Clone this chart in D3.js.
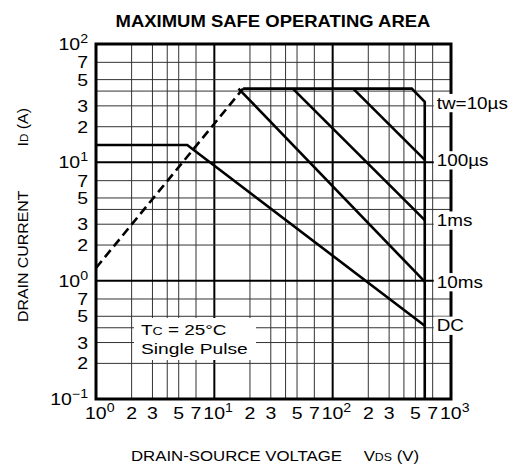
<!DOCTYPE html>
<html>
<head>
<meta charset="utf-8">
<script src="https://cdn.jsdelivr.net/npm/d3@7"></script>
<style>
  body { margin: 0; background: #fff; }
  svg { font-family: "Liberation Sans", Arial, sans-serif; }
</style>
</head>
<body>
<svg id="chart" width="514" height="473"></svg>
<script>
// grid multipliers per decade
const gridMults = [1, 2, 3, 4, 5, 7];
const yTickMults = [2, 3, 5, 7];
const xTickMults = [2, 3, 5, 7];
const decadesX = [0, 1, 2, 3];
const decadesY = [-1, 0, 1, 2];

// SOA curves, [V, A]
const rdsLimit = [[1, 1.28], [17.5, 42]];
const pulseEnvelope = [[17.5, 42], [466, 42], [600, 32.5], [600, 0.1]];
const line100us = [[149, 42], [600, 10.5]];
const line1ms = [[46, 42], [600, 3.25]];
const line10ms = [[16, 42], [600, 0.98]];
const lineDC = [[1, 14], [5.9, 14], [600, 0.416]];

const curveLabels = [
    { text: "tw=10µs", v: 600, i: 32 },
    { text: "100µs", v: 600, i: 10.5 },
    { text: "1ms", v: 600, i: 3.25 },
    { text: "10ms", v: 600, i: 0.98 },
    { text: "DC", v: 600, i: 0.42 }
];

const svg = d3.select("#chart");
const plotL = 96, plotR = 451, plotT = 44, plotB = 399;
const stretch = 1.18; // the source font is wider than Liberation Sans

const x = d3.scaleLog().domain([1, 1000]).range([plotL, plotR]);
const y = d3.scaleLog().domain([0.1, 100]).range([plotB, plotT]);

// text made of tspans, widened around its anchor point
function addText(parent, tx, ty, parts, opts) {
    opts = opts || {};
    const t = parent.append("text")
        .attr("transform", `translate(${tx},${ty}) ${opts.rotate ? "rotate(-90)" : ""} scale(${opts.sx || stretch},1)`)
        .attr("text-anchor", opts.anchor || "start")
        .attr("font-size", opts.size || 16)
        .attr("font-weight", opts.weight || null);
    parts.forEach(p => {
        const s = t.append("tspan").text(p.t);
        if (p.size) s.attr("font-size", p.size);
        if (p.dy) s.attr("dy", p.dy);
    });
    return t;
}

// title
addText(svg, 273, 27, [{ t: "MAXIMUM SAFE OPERATING AREA" }],
    { anchor: "middle", size: 16.5, weight: "bold", sx: 1.12 });

// grid
const grid = svg.append("g");
const xGrid = [], yGrid = [];
decadesX.slice(0, 3).forEach(d => gridMults.forEach(m => xGrid.push({ v: m * Math.pow(10, d), major: m === 1 })));
decadesY.slice(0, 3).forEach(d => gridMults.forEach(m => yGrid.push({ v: m * Math.pow(10, d), major: m === 1 })));

grid.selectAll(".vg")
    .data(xGrid.filter(g => g.v > 1))
    .enter().append("line")
    .attr("x1", d => x(d.v)).attr("x2", d => x(d.v))
    .attr("y1", plotT).attr("y2", plotB)
    .attr("stroke", d => d.major ? "#000" : "#333")
    .attr("stroke-width", d => d.major ? 2 : 1);

grid.selectAll(".hg")
    .data(yGrid.filter(g => g.v > 0.1))
    .enter().append("line")
    .attr("y1", d => y(d.v)).attr("y2", d => y(d.v))
    .attr("x1", plotL).attr("x2", plotR)
    .attr("stroke", d => d.major ? "#000" : "#333")
    .attr("stroke-width", d => d.major ? 2 : 1);

// frame
svg.append("rect")
    .attr("x", plotL).attr("y", plotT)
    .attr("width", plotR - plotL).attr("height", plotB - plotT)
    .attr("fill", "none").attr("stroke", "#000").attr("stroke-width", 3);

// curves
const lineGen = d3.line().x(d => x(d[0])).y(d => y(d[1]));
[pulseEnvelope, line100us, line1ms, line10ms, lineDC].forEach(pts => {
    svg.append("path")
        .attr("d", lineGen(pts))
        .attr("fill", "none")
        .attr("stroke", "#000")
        .attr("stroke-width", 2.6)
        .attr("stroke-linejoin", "miter");
});
svg.append("path")
    .attr("d", lineGen(rdsLimit))
    .attr("fill", "none")
    .attr("stroke", "#000")
    .attr("stroke-width", 2.6)
    .attr("stroke-dasharray", "9,5");

// curve labels on white boxes
curveLabels.forEach(l => {
    const g = svg.append("g");
    const t = addText(g, x(l.v) + 12, y(l.i) + 6, [{ t: l.text }], { size: 16 });
    const bb = t.node().getBBox();
    g.insert("rect", "text")
        .attr("x", x(l.v) + 9).attr("y", y(l.i) + 6 + bb.y)
        .attr("width", bb.width * stretch + 6).attr("height", bb.height)
        .attr("fill", "#fff");
});

// Tc note
const note = svg.append("g");
note.append("rect")
    .attr("x", 134).attr("y", 318)
    .attr("width", 122).attr("height", 42)
    .attr("fill", "#fff");
addText(note, 141, 335, [{ t: "T" }, { t: "C", size: 11.5 }, { t: " = 25°C" }], { size: 15.5, sx: 1.22 });
addText(note, 141, 354, [{ t: "Single Pulse" }], { size: 15, sx: 1.28 });

// y ticks
const yt = svg.append("g");
decadesY.forEach(d => {
    addText(yt, 88, y(Math.pow(10, d)) + 6,
        [{ t: "10" }, { t: d === -1 ? "−1" : String(d), size: 12, dy: -7 }],
        { anchor: "end", size: 16.5 });
    if (d < 2) {
        yTickMults.forEach(m => {
            addText(yt, 88, y(m * Math.pow(10, d)) + 6, [{ t: String(m) }],
                { anchor: "end", size: 16.5 });
        });
    }
});

// x ticks
const xt = svg.append("g");
decadesX.forEach(d => {
    addText(xt, x(Math.pow(10, d)) - 11, 419,
        [{ t: "10" }, { t: String(d), size: 12, dy: -7 }],
        { size: 16.5 });
    if (d < 3) {
        xTickMults.forEach(m => {
            addText(xt, x(m * Math.pow(10, d)), 419, [{ t: String(m) }],
                { anchor: "middle", size: 16.5 });
        });
    }
});

// axis titles
addText(svg, 131, 461, [{ t: "DRAIN-SOURCE VOLTAGE" }], { size: 15, sx: 1.12 });
addText(svg, 419, 461, [{ t: "V" }, { t: "DS", size: 11 }, { t: " (V)" }], { size: 15, sx: 1.12, anchor: "end" });

addText(svg, 28, 322, [{ t: "DRAIN CURRENT" }], { size: 15, sx: 1.06, rotate: true });
addText(svg, 28, 108, [{ t: "I" }, { t: "D", size: 11 }, { t: " (A)" }], { size: 15, sx: 1.06, rotate: true, anchor: "end" });
</script>
</body>
</html>
